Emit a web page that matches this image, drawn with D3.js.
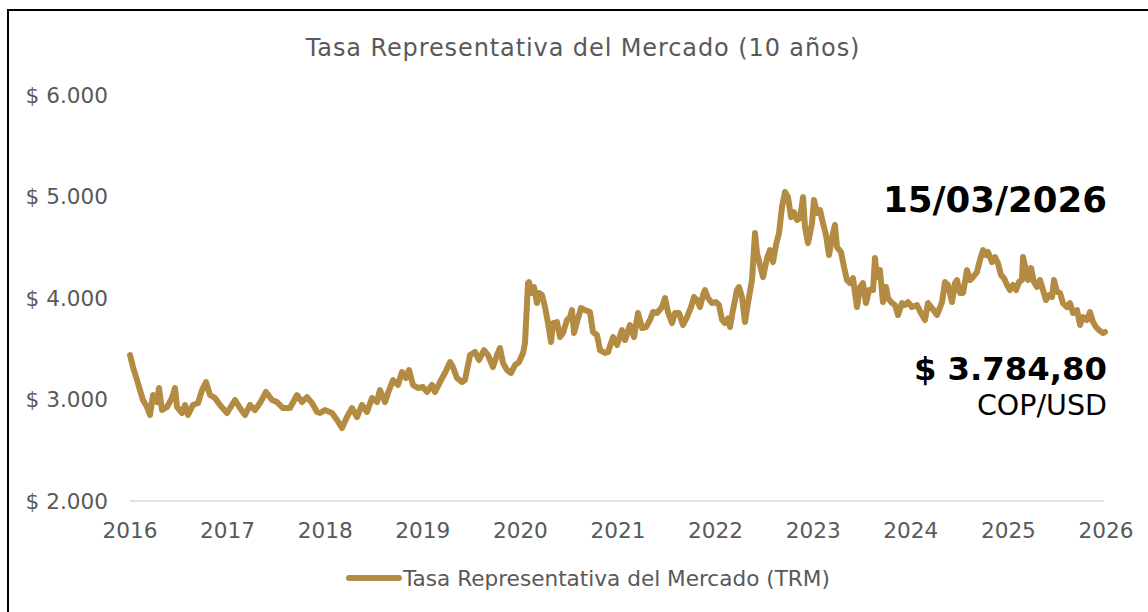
<!DOCTYPE html>
<html>
<head>
<meta charset="utf-8">
<script src="https://cdn.jsdelivr.net/npm/d3@7"></script>
<style>
  html, body { margin: 0; padding: 0; background: #ffffff; }
  svg { display: block; }
  text { font-family: "DejaVu Sans", Verdana, sans-serif; }
</style>
</head>
<body>
<svg id="chart" width="1148" height="612"></svg>
<script>
// ---- data (decimal year, COP per USD) ----
const fechas = [
  2016.000,2016.031,2016.072,2016.102,2016.133,2016.174,2016.205,2016.236,2016.277,2016.297,
  2016.328,2016.379,2016.430,2016.461,2016.482,2016.533,2016.564,2016.594,2016.645,2016.697,
  2016.738,2016.779,2016.820,2016.871,2016.922,2016.994,2017.076,2017.127,2017.178,2017.230,
  2017.281,2017.332,2017.393,2017.455,2017.506,2017.568,2017.639,2017.711,2017.762,2017.814,
  2017.865,2017.916,2017.947,2017.998,2018.070,2018.121,2018.172,2018.223,2018.275,2018.326,
  2018.377,2018.428,2018.480,2018.531,2018.561,2018.613,2018.643,2018.695,2018.746,2018.787,
  2018.828,2018.859,2018.900,2018.951,2019.002,2019.043,2019.094,2019.125,2019.176,2019.227,
  2019.279,2019.309,2019.350,2019.402,2019.432,2019.484,2019.535,2019.576,2019.627,2019.668,
  2019.719,2019.760,2019.791,2019.822,2019.863,2019.904,2019.945,2019.986,2020.027,2020.047,
  2020.068,2020.078,2020.088,2020.119,2020.139,2020.170,2020.191,2020.221,2020.252,2020.283,
  2020.314,2020.334,2020.375,2020.406,2020.436,2020.477,2020.508,2020.529,2020.549,2020.580,
  2020.621,2020.662,2020.713,2020.744,2020.785,2020.816,2020.867,2020.898,2020.949,2020.990,
  2021.041,2021.072,2021.123,2021.164,2021.205,2021.246,2021.287,2021.328,2021.359,2021.400,
  2021.451,2021.482,2021.512,2021.553,2021.584,2021.625,2021.666,2021.707,2021.748,2021.779,
  2021.809,2021.840,2021.871,2021.891,2021.922,2021.963,2022.004,2022.035,2022.066,2022.096,
  2022.127,2022.148,2022.178,2022.219,2022.240,2022.270,2022.301,2022.332,2022.373,2022.404,
  2022.424,2022.455,2022.486,2022.527,2022.557,2022.588,2022.619,2022.650,2022.680,2022.711,
  2022.742,2022.773,2022.803,2022.834,2022.865,2022.896,2022.916,2022.947,2022.988,2023.008,
  2023.039,2023.070,2023.100,2023.131,2023.162,2023.203,2023.223,2023.244,2023.285,2023.316,
  2023.346,2023.377,2023.408,2023.428,2023.449,2023.480,2023.510,2023.541,2023.572,2023.613,
  2023.633,2023.654,2023.684,2023.715,2023.746,2023.766,2023.807,2023.838,2023.869,2023.910,
  2023.941,2023.971,2024.012,2024.064,2024.094,2024.145,2024.176,2024.217,2024.268,2024.320,
  2024.350,2024.381,2024.422,2024.453,2024.473,2024.504,2024.535,2024.576,2024.607,2024.637,
  2024.678,2024.709,2024.740,2024.770,2024.791,2024.832,2024.863,2024.893,2024.924,2024.955,
  2024.986,2025.016,2025.047,2025.078,2025.109,2025.139,2025.150,2025.180,2025.201,2025.232,
  2025.262,2025.293,2025.324,2025.355,2025.385,2025.416,2025.447,2025.467,2025.498,2025.529,
  2025.559,2025.600,2025.631,2025.662,2025.703,2025.734,2025.764,2025.805,2025.836,2025.867,
  2025.898,2025.928,2025.969,2025.990
];
const trm = [
  3438,3320,3192,3093,2995,2926,2847,3044,2975,3113,
  2896,2926,3015,3113,2926,2867,2946,2847,2946,2965,
  3093,3172,3044,3015,2946,2867,2995,2916,2847,2946,
  2896,2965,3074,2995,2975,2916,2916,3044,2975,3024,
  2965,2877,2867,2896,2867,2798,2719,2827,2916,2827,
  2946,2877,3015,2975,3093,2975,3064,3192,3143,3271,
  3212,3290,3143,3113,3123,3074,3143,3074,3172,3261,
  3369,3320,3212,3172,3192,3438,3468,3389,3487,3438,
  3320,3438,3507,3359,3290,3261,3340,3369,3458,3556,
  3950,4147,4157,4049,4108,3950,4049,4029,3911,3753,
  3566,3753,3763,3615,3655,3783,3812,3881,3655,3763,
  3901,3881,3862,3665,3635,3487,3458,3468,3615,3537,
  3684,3586,3734,3615,3852,3704,3714,3783,3862,3852,
  3911,4000,3862,3753,3852,3852,3734,3812,3911,4010,
  3980,3911,4029,4078,4000,3950,3960,3931,3783,3753,
  3800,3714,3881,4078,4108,4010,3763,3950,4177,4640,
  4443,4325,4206,4394,4472,4354,4522,4640,4896,5044,
  4994,4797,4847,4768,4788,4994,4699,4541,4738,4965,
  4837,4866,4738,4620,4423,4640,4719,4502,4453,4305,
  4177,4147,4196,4049,3911,4108,4147,3950,4078,4078,
  4394,4206,4275,3960,4108,4000,3950,3931,3832,3950,
  3931,3960,3911,3931,3870,3783,3950,3901,3832,3960,
  4157,4128,3960,4147,4177,4049,4049,4275,4177,4206,
  4256,4374,4472,4423,4453,4354,4403,4344,4226,4196,
  4128,4078,4128,4078,4157,4177,4403,4275,4177,4295,
  4157,4108,4177,4078,3980,4029,4010,4177,4059,4049,
  3950,3911,3950,3852,3881,3734,3812,3783,3862,3763,
  3714,3684,3655,3665
];
const anios = [2016,2017,2018,2019,2020,2021,2022,2023,2024,2025,2026];
const valoresEje = [2000,3000,4000,5000,6000];
const titulo = "Tasa Representativa del Mercado (10 años)";
const serieNombre = "Tasa Representativa del Mercado (TRM)";
const fechaCorte = "15/03/2026";
const valorCorte = "$ 3.784,80";
const unidad = "COP/USD";

// ---- drawing ----
const color = "#B38B42";
const gris = "#595959";
const svg = d3.select("#chart");

// outer frame
svg.append("rect").attr("x", 8).attr("y", 10).attr("width", 1160).attr("height", 640)
  .attr("fill", "none").attr("stroke", "#000").attr("stroke-width", 2);

const x = d3.scaleLinear().domain([2016, 2026]).range([130, 1106]);
const y = d3.scaleLinear().domain([2000, 6000]).range([501, 95]);

// title
svg.append("text").attr("x", 583).attr("y", 56).attr("text-anchor", "middle")
  .attr("font-size", 24).attr("letter-spacing", 0.9).attr("fill", gris).text(titulo);

// baseline
svg.append("line").attr("x1", x(2016)).attr("x2", x(2026) - 2)
  .attr("y1", y(2000)).attr("y2", y(2000)).attr("stroke", "#d9d9d9").attr("stroke-width", 1.5);

// y axis labels
const fmtY = v => "$ " + d3.format(",")(v).replace(/,/g, ".");
svg.append("g").selectAll("text").data(valoresEje).join("text")
  .attr("x", 108).attr("y", d => y(d)).attr("dy", "0.36em").attr("text-anchor", "end")
  .attr("font-size", 21.6).attr("fill", gris).text(fmtY);

// x axis labels
svg.append("g").selectAll("text").data(anios).join("text")
  .attr("x", d => x(d)).attr("y", 538).attr("text-anchor", "middle")
  .attr("font-size", 21.6).attr("fill", gris).text(d => d);

// line
const pts = fechas.map((f, i) => [f, trm[i]]);
const line = d3.line().x(d => x(d[0])).y(d => y(d[1]));
svg.append("path").datum(pts).attr("d", line).attr("fill", "none")
  .attr("stroke", color).attr("stroke-width", 6)
  .attr("stroke-linejoin", "round").attr("stroke-linecap", "round");

// annotations
svg.append("text").attr("x", 1107).attr("y", 212).attr("text-anchor", "end")
  .attr("font-size", 35.6).attr("font-weight", "bold").attr("fill", "#000").text(fechaCorte);
svg.append("text").attr("x", 1107).attr("y", 380).attr("text-anchor", "end")
  .attr("font-size", 32.3).attr("font-weight", "bold").attr("fill", "#000").text(valorCorte);
svg.append("text").attr("x", 1107).attr("y", 415).attr("text-anchor", "end")
  .attr("font-size", 28.5).attr("fill", "#000").text(unidad);

// legend
svg.append("line").attr("x1", 349).attr("x2", 399).attr("y1", 578).attr("y2", 578)
  .attr("stroke", color).attr("stroke-width", 6).attr("stroke-linecap", "round");
svg.append("text").attr("x", 403).attr("y", 586).attr("font-size", 21.6)
  .attr("fill", gris).text(serieNombre);
</script>
</body>
</html>
